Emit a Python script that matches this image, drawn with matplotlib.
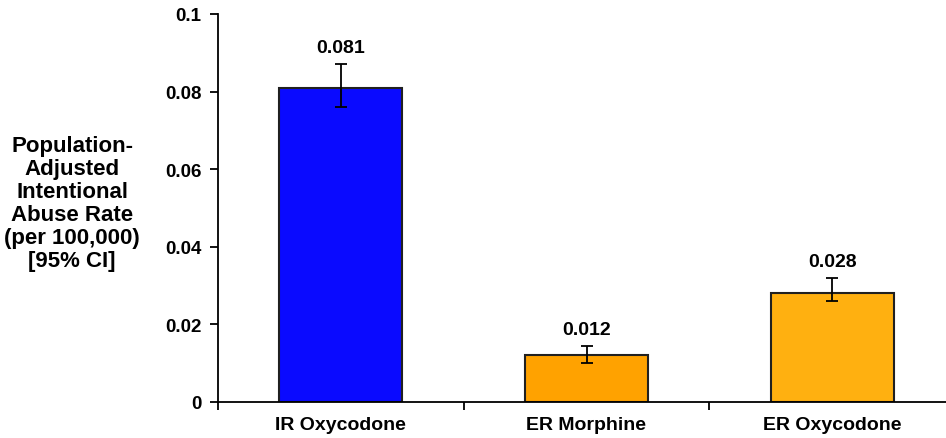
import matplotlib.pyplot as plt
import numpy as np

drugs = ["IR Oxycodone", "ER Morphine", "ER Oxycodone"]
rates = [0.081, 0.012, 0.028]
ci_low = [0.076, 0.010, 0.026]
ci_high = [0.087, 0.0144, 0.032]
colors = ["#0a0aff", "#ffa200", "#ffb010"]

plt.rcParams["font.family"] = ["Liberation Sans", "DejaVu Sans"]
plt.rcParams["font.weight"] = "bold"

fig = plt.figure(figsize=(9.46, 4.39), dpi=100)
# axis runs a little past the right edge of the picture, as in the original
ax = fig.add_axes([218 / 946, (439 - 403) / 439, (955 - 218) / 946, (403 - 15) / 439])

x = np.arange(len(drugs))
err = [np.array(rates) - np.array(ci_low), np.array(ci_high) - np.array(rates)]
ax.bar(x, rates, width=0.5, color=colors, edgecolor="#202020", linewidth=1.5, zorder=2)
ax.errorbar(x, rates, yerr=err, fmt="none", ecolor="black", elinewidth=1.3,
            capsize=4, capthick=1.3, zorder=3)

for xi, r, hi in zip(x, rates, ci_high):
    ax.annotate(f"{r:.3f}", (xi, hi), xytext=(0, 6), textcoords="offset points",
                ha="center", va="bottom", fontsize=14, fontweight="bold")

ax.set_xlim(-0.5, 2.5)
ax.set_ylim(0, 0.1)
ax.set_yticks([0, 0.02, 0.04, 0.06, 0.08, 0.1])
ax.set_yticklabels(["0", "0.02", "0.04", "0.06", "0.08", "0.1"])
ax.set_xticks(x)
ax.set_xticklabels(drugs)
ax.set_xticks([-0.5, 0.5, 1.5, 2.5], minor=True)
ax.tick_params(axis="x", which="major", length=0, pad=10, labelsize=14)
ax.tick_params(axis="x", which="minor", length=6, width=1.3, direction="out")
ax.tick_params(axis="y", length=6, width=1.3, direction="out", pad=6, labelsize=13.5)
for lbl in ax.get_xticklabels() + ax.get_yticklabels():
    lbl.set_fontweight("bold")

ax.spines["top"].set_visible(False)
ax.spines["right"].set_visible(False)
ax.spines["left"].set_linewidth(1.3)
ax.spines["bottom"].set_linewidth(1.3)

fig.text(72 / 946, 1 - 204 / 439,
         "Population-\nAdjusted\nIntentional\nAbuse Rate\n(per 100,000)\n[95% CI]",
         ha="center", va="center", fontsize=16, fontweight="bold", linespacing=1.12)

fig.savefig("out.png", dpi=100)
